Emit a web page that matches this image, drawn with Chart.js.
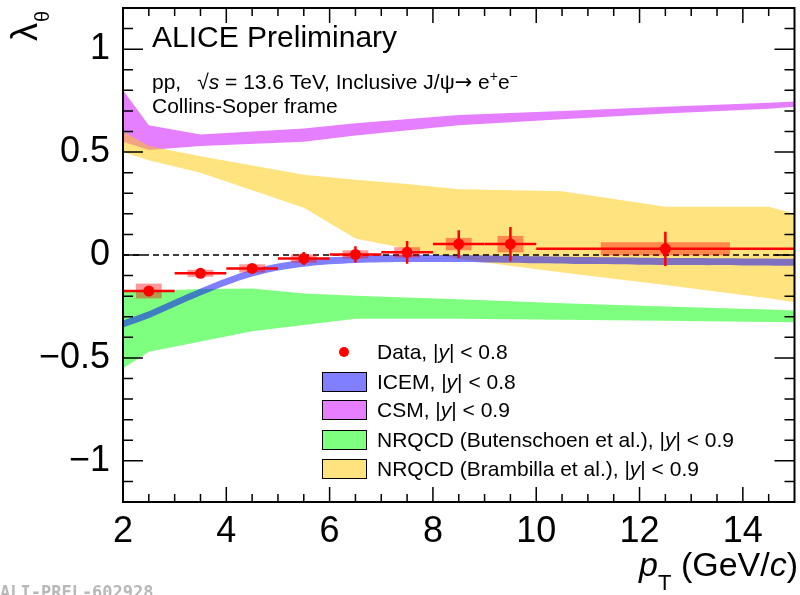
<!DOCTYPE html>
<html>
<head>
<meta charset="utf-8">
<script src="https://cdn.jsdelivr.net/npm/chart.js@4.4.1/dist/chart.umd.min.js"></script>
<style>
  html, body { margin: 0; padding: 0; background: #fff; }
  canvas { display: block; }
</style>
</head>
<body>
<canvas id="lambdaChart" width="800" height="595"></canvas>
<script>
// Measured lambda_theta vs pT (Collins-Soper frame)
const ptCentre = [2.5, 3.5, 4.5, 5.5, 6.5, 7.5, 8.5, 9.5, 12.5];
const ptLow = [2, 3, 4, 5, 6, 7, 8, 9, 10];
const ptHigh = [3, 4, 5, 6, 7, 8, 9, 10, 15];
const lambdaTheta = [-0.175, -0.089, -0.065, -0.017, 0.003, 0.013, 0.053, 0.053, 0.03];
const statErr = [0.02, 0.012, 0.015, 0.032, 0.04, 0.055, 0.067, 0.083, 0.083];
const sysErr = [0.036, 0.017, 0.02, 0.02, 0.02, 0.025, 0.03, 0.04, 0.032];
const sysHalfWidth = [0.25, 0.25, 0.25, 0.25, 0.25, 0.25, 0.25, 0.25, 1.25];

// ICEM band
const icemPt = [2, 2.5, 3, 3.5, 4, 4.5, 5, 5.5, 6, 7, 8, 9, 10, 11, 12, 13, 14, 15];
const icemLow = [-0.352, -0.307, -0.252, -0.197, -0.147, -0.105, -0.075, -0.057, -0.045, -0.035, -0.034, -0.036, -0.040, -0.044, -0.047, -0.049, -0.051, -0.052];
const icemHigh = [-0.318, -0.273, -0.218, -0.163, -0.113, -0.071, -0.041, -0.023, -0.011, -0.001, 0.000, -0.002, -0.006, -0.010, -0.013, -0.015, -0.017, -0.018];

// CSM band
const csmPt = [2, 2.5, 3.5, 5.5, 6.5, 8.5, 10.5, 12.5, 14.5, 15];
const csmLow = [0.55, 0.51, 0.53, 0.55, 0.58, 0.63, 0.66, 0.688, 0.71, 0.72];
const csmHigh = [0.80, 0.63, 0.585, 0.615, 0.64, 0.68, 0.70, 0.72, 0.74, 0.746];

// NRQCD (Butenschoen et al.)
const butPt = [2, 2.5, 3.5, 4.5, 5.5, 6.5, 8.5, 10.5, 12.5, 14.5, 15];
const butLow = [-0.55, -0.47, -0.42, -0.37, -0.34, -0.31, -0.31, -0.315, -0.32, -0.325, -0.327];
const butHigh = [-0.18, -0.175, -0.165, -0.163, -0.187, -0.198, -0.215, -0.235, -0.25, -0.265, -0.27];

// NRQCD (Brambilla et al.)
const bramPt = [2, 2.5, 3.5, 4.5, 5.5, 6.5, 7.5, 8.5, 10.5, 12.5, 14.5, 15];
const bramLow = [0.50, 0.46, 0.40, 0.315, 0.23, 0.08, 0.03, -0.02, -0.085, -0.146, -0.21, -0.23];
const bramHigh = [0.60, 0.53, 0.48, 0.435, 0.39, 0.365, 0.345, 0.32, 0.31, 0.235, 0.235, 0.20];

const xTicks = { min: 2, max: 15, step: 2 };
const yTicks = { min: -1.2, max: 1.2, step: 0.5 };

const icemColor = 'rgba(0, 0, 255, 0.5)';
const csmColor = 'rgba(204, 0, 255, 0.5)';
const butColor = 'rgba(0, 255, 0, 0.5)';
const bramColor = 'rgba(255, 200, 0, 0.5)';

const FONT = '"Liberation Sans", Arial, Helvetica, sans-serif';

function xy(xs, ys) {
    return xs.map((x, i) => ({ x: x, y: ys[i] }));
}

// two line datasets per band, the upper one filled down to the lower one
function band(label, xs, lo, hi, color, order, tension) {
    const common = {
        type: 'line',
        borderWidth: 0,
        pointRadius: 0,
        tension: tension || 0,
        order: order
    };
    return [
        Object.assign({ label: label + ' low', data: xy(xs, lo), fill: false }, common),
        Object.assign({ label: label, data: xy(xs, hi), fill: '-1', backgroundColor: color, borderColor: color }, common)
    ];
}

// dashed zero line, systematic boxes and statistical bars, drawn under the markers
const errorBars = {
    id: 'errorBars',
    beforeDatasetDraw(chart, args) {
        if (chart.data.datasets[args.index].label !== 'Data') return;
        const ctx = chart.ctx;
        const xs = chart.scales.x, ys = chart.scales.y;
        ctx.save();

        ctx.strokeStyle = '#000';
        ctx.lineWidth = 1.5;
        ctx.setLineDash([6, 4]);
        ctx.beginPath();
        ctx.moveTo(xs.getPixelForValue(xTicks.min), ys.getPixelForValue(0));
        ctx.lineTo(xs.getPixelForValue(xTicks.max), ys.getPixelForValue(0));
        ctx.stroke();
        ctx.setLineDash([]);

        ctx.fillStyle = 'rgba(255, 0, 0, 0.4)';
        ptCentre.forEach((pt, i) => {
            const x0 = xs.getPixelForValue(pt - sysHalfWidth[i]);
            const x1 = xs.getPixelForValue(pt + sysHalfWidth[i]);
            const y0 = ys.getPixelForValue(lambdaTheta[i] + sysErr[i]);
            const y1 = ys.getPixelForValue(lambdaTheta[i] - sysErr[i]);
            ctx.fillRect(x0, y0, x1 - x0, y1 - y0);
        });

        ctx.strokeStyle = '#ff0000';
        ctx.lineWidth = 2.5;
        ptCentre.forEach((pt, i) => {
            const py = ys.getPixelForValue(lambdaTheta[i]);
            const px = xs.getPixelForValue(pt);
            ctx.beginPath();
            ctx.moveTo(xs.getPixelForValue(ptLow[i]), py);
            ctx.lineTo(xs.getPixelForValue(ptHigh[i]), py);
            ctx.moveTo(px, ys.getPixelForValue(lambdaTheta[i] + statErr[i]));
            ctx.lineTo(px, ys.getPixelForValue(lambdaTheta[i] - statErr[i]));
            ctx.stroke();
        });
        ctx.restore();
    }
};

// frame with inward ticks on all four sides
const frame = {
    id: 'frame',
    afterDraw(chart) {
        const ctx = chart.ctx, a = chart.chartArea;
        const xs = chart.scales.x, ys = chart.scales.y;
        ctx.save();
        ctx.strokeStyle = '#000';
        ctx.lineWidth = 1.5;
        ctx.beginPath();
        for (let k = -11; k <= 11; k++) {
            const py = ys.getPixelForValue(k / 10);
            const len = k % 5 === 0 ? 20 : 10;
            ctx.moveTo(a.left, py); ctx.lineTo(a.left + len, py);
            ctx.moveTo(a.right, py); ctx.lineTo(a.right - len, py);
        }
        for (let k = 5; k <= 29; k++) {
            const px = xs.getPixelForValue(k / 2);
            const len = k % 4 === 0 ? 15 : 8;
            ctx.moveTo(px, a.bottom); ctx.lineTo(px, a.bottom - len);
            ctx.moveTo(px, a.top); ctx.lineTo(px, a.top + len);
        }
        ctx.stroke();
        ctx.lineWidth = 2;
        ctx.strokeRect(a.left, a.top, a.right - a.left, a.bottom - a.top);
        ctx.restore();
    }
};

// draws a sequence of text pieces with their own fonts and vertical shifts
function drawRuns(ctx, x, y, runs) {
    runs.forEach(r => {
        ctx.font = r.font;
        ctx.fillText(r.t, x, y + (r.dy || 0));
        x += ctx.measureText(r.t).width + (r.gap || 0);
    });
    return x;
}

const labels = {
    id: 'labels',
    afterDraw(chart) {
        const ctx = chart.ctx;
        ctx.save();
        ctx.fillStyle = '#000';
        ctx.textBaseline = 'alphabetic';
        ctx.textAlign = 'left';

        ctx.font = '30px ' + FONT;
        ctx.fillText('ALICE Preliminary', 152, 47);

        const f = '21px ' + FONT, fi = 'italic 21px ' + FONT, fs = '14px ' + FONT;
        drawRuns(ctx, 152, 89, [
            { t: 'pp,', font: f, gap: 16 },
            { t: '\u221A', font: f },
            { t: 's', font: fi },
            { t: ' = 13.6 TeV, Inclusive J/\u03C8', font: f },
            { t: '\u2192', font: '21px "DejaVu Sans", sans-serif' },
            { t: ' e', font: f },
            { t: '+', font: fs, dy: -8 },
            { t: 'e', font: f },
            { t: '\u2212', font: fs, dy: -8 }
        ]);
        ctx.font = f;
        ctx.fillText('Collins-Soper frame', 152, 113);

        // legend
        const lf = '21px ' + FONT, lfi = 'italic 21px ' + FONT;
        const rows = [
            { y: 352, text: 'Data, ', cut: '< 0.8', color: null },
            { y: 382, text: 'ICEM, ', cut: '< 0.8', color: icemColor },
            { y: 410, text: 'CSM, ', cut: '< 0.9', color: csmColor },
            { y: 440, text: 'NRQCD (Butenschoen et al.), ', cut: '< 0.9', color: butColor },
            { y: 469, text: 'NRQCD (Brambilla et al.), ', cut: '< 0.9', color: bramColor }
        ];
        rows.forEach(r => {
            if (r.color) {
                ctx.fillStyle = r.color;
                ctx.fillRect(322, r.y - 10, 45, 20);
                ctx.strokeStyle = '#000';
                ctx.lineWidth = 1;
                ctx.strokeRect(322.5, r.y - 9.5, 44, 19);
            } else {
                ctx.fillStyle = '#ff0000';
                ctx.beginPath();
                ctx.arc(344, r.y, 5, 0, Math.PI * 2);
                ctx.fill();
            }
            ctx.fillStyle = '#000';
            drawRuns(ctx, 377, r.y + 7, [
                { t: r.text + '|', font: lf },
                { t: 'y', font: lfi },
                { t: '| ' + r.cut, font: lf }
            ]);
        });

        // x axis title, right-aligned to the frame
        const big = '34px ' + FONT, bigi = 'italic 34px ' + FONT, sub = '22px ' + FONT;
        const runs = [
            { t: 'p', font: bigi },
            { t: 'T', font: sub, dy: 14 },
            { t: ' (GeV/', font: big },
            { t: 'c', font: bigi },
            { t: ')', font: big }
        ];
        let total = 0;
        runs.forEach(r => { ctx.font = r.font; total += ctx.measureText(r.t).width; });
        drawRuns(ctx, 798 - total, 576, runs);

        // y axis title, rotated
        ctx.save();
        ctx.translate(37, 41);
        ctx.rotate(-Math.PI / 2);
        ctx.font = '36px ' + FONT;
        ctx.fillText('\u03BB', 0, 0);
        const wl = ctx.measureText('\u03BB').width;
        ctx.font = '20px ' + FONT;
        ctx.fillText('\u03B8', wl + 1, 12);
        ctx.restore();

        ctx.fillStyle = '#b8b8b8';
        ctx.font = 'bold 17px "DejaVu Sans Mono", monospace';
        ctx.fillText('ALI-PREL-602928', 0, 598);
        ctx.restore();
    }
};

const datasets = [].concat(
    [{
        type: 'line',
        label: 'Data',
        data: xy(ptCentre, lambdaTheta),
        showLine: false,
        pointRadius: 5.5,
        pointBackgroundColor: '#ff0000',
        pointBorderWidth: 0,
        order: 1
    }],
    band('ICEM', icemPt, icemLow, icemHigh, icemColor, 2, 0.3),
    band('NRQCD Butenschoen', butPt, butLow, butHigh, butColor, 3),
    band('NRQCD Brambilla', bramPt, bramLow, bramHigh, bramColor, 4),
    band('CSM', csmPt, csmLow, csmHigh, csmColor, 5)
);

const tickFont = { family: FONT, size: 36 };

// axis label overhang would otherwise shrink the plotting area
function noOverhang(scale) {
    scale.paddingTop = 0;
    scale.paddingBottom = 0;
    scale.paddingLeft = 0;
    scale.paddingRight = 0;
}

new Chart(document.getElementById('lambdaChart'), {
    type: 'line',
    data: { datasets: datasets },
    options: {
        responsive: false,
        animation: false,
        events: [],
        layout: { padding: { left: 0, top: 8, right: 2, bottom: 0 } },
        plugins: { legend: { display: false }, tooltip: { enabled: false } },
        scales: {
            x: {
                type: 'linear',
                min: xTicks.min,
                max: xTicks.max,
                grid: { display: false, drawTicks: false },
                border: { display: false },
                ticks: {
                    stepSize: xTicks.step,
                    includeBounds: false,
                    maxRotation: 0,
                    autoSkip: false,
                    padding: 8,
                    color: '#000',
                    font: tickFont
                },
                afterFit(scale) { scale.height = 93; noOverhang(scale); }
            },
            y: {
                type: 'linear',
                min: yTicks.min,
                max: yTicks.max,
                grid: { display: false, drawTicks: false },
                border: { display: false },
                ticks: {
                    stepSize: yTicks.step,
                    includeBounds: false,
                    padding: 13,
                    color: '#000',
                    font: tickFont,
                    callback: v => String(v).replace('-', '\u2212')
                },
                afterFit(scale) { scale.width = 123; noOverhang(scale); }
            }
        }
    },
    plugins: [errorBars, frame, labels]
});
</script>
</body>
</html>
